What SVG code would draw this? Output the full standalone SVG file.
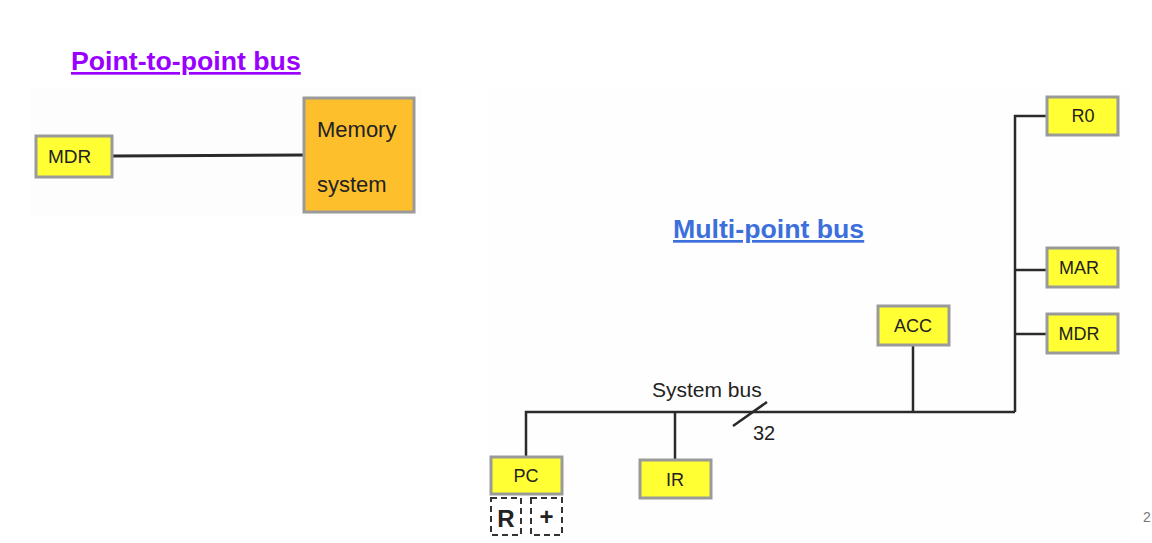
<svg xmlns="http://www.w3.org/2000/svg" width="1152" height="543" viewBox="0 0 1152 543">
<style>
text{font-family:"Liberation Sans",Arial,sans-serif;fill:#222}
.reg{fill:#ffff33;stroke:#9a9a9a;stroke-width:3}
.mem{fill:#fdbf2b;stroke:#9a9a9a;stroke-width:3}
.lbl{font-size:18px;text-anchor:middle}
.wire{stroke:#2a2a2a;stroke-width:2.5;fill:none}
.dash{fill:none;stroke:#333;stroke-width:2;stroke-dasharray:6 4}
.title{font-size:26.7px;font-weight:bold;text-decoration:underline}
</style>
<rect x="0" y="0" width="1152" height="543" fill="#ffffff"/>
<rect x="30" y="88" width="392" height="128" fill="#fdfdfd"/>
<rect x="488" y="88" width="642" height="452" fill="#fefefe"/>
<text class="title" x="71" y="70" style="fill:#9900ff">Point-to-point bus</text>
<text class="title" x="673" y="238" style="fill:#3c6fdc">Multi-point bus</text>
<g id="connectors">
<line class="wire" x1="112" y1="156" x2="304" y2="155" style="stroke-width:3"/>
<polyline class="wire" points="526,457 526,412 1015,412"/>
<line class="wire" x1="675" y1="412" x2="675" y2="460"/>
<line class="wire" x1="913" y1="345" x2="913" y2="412"/>
<polyline class="wire" points="1047,116 1015,116 1015,412"/>
<line class="wire" x1="1015" y1="270" x2="1047" y2="270"/>
<line class="wire" x1="1015" y1="334" x2="1047" y2="334"/>
<line class="wire" x1="733" y1="426" x2="767" y2="402"/>
<text x="652" y="397" style="font-size:21px">System bus</text>
<text x="753" y="440" style="font-size:20px">32</text>
</g>
<g id="mdr1"><rect class="reg" x="36" y="136" width="76" height="41"/><text x="48" y="163" style="font-size:19px">MDR</text></g>
<g id="memory"><rect class="mem" x="304" y="98" width="110" height="114"/><text x="317" y="137" style="font-size:22px">Memory</text><text x="317" y="192" style="font-size:22px">system</text></g>
<g id="r0"><rect class="reg" x="1047" y="97" width="71" height="38"/><text class="lbl" x="1083" y="122">R0</text></g>
<g id="mar"><rect class="reg" x="1047" y="248" width="71" height="39"/><text class="lbl" x="1079" y="274">MAR</text></g>
<g id="mdr2"><rect class="reg" x="1047" y="314" width="71" height="39"/><text class="lbl" x="1079" y="340">MDR</text></g>
<g id="acc"><rect class="reg" x="878" y="306" width="71" height="39"/><text class="lbl" x="913" y="332">ACC</text></g>
<g id="pc"><rect class="reg" x="491" y="457" width="71" height="37"/><text class="lbl" x="526" y="482">PC</text></g>
<g id="ir"><rect class="reg" x="640" y="460" width="71" height="38"/><text class="lbl" x="675" y="486">IR</text></g>
<g id="r-box"><rect class="dash" x="491" y="498" width="30" height="37"/><text x="506" y="527" style="font-size:24px;font-weight:bold;text-anchor:middle">R</text></g>
<g id="plus-box"><rect class="dash" x="531" y="498" width="31" height="37"/><text x="546.5" y="525" style="font-size:24px;font-weight:bold;text-anchor:middle">+</text></g>
<text x="1143" y="522" style="font-size:14px;fill:#777">2</text>
</svg>
